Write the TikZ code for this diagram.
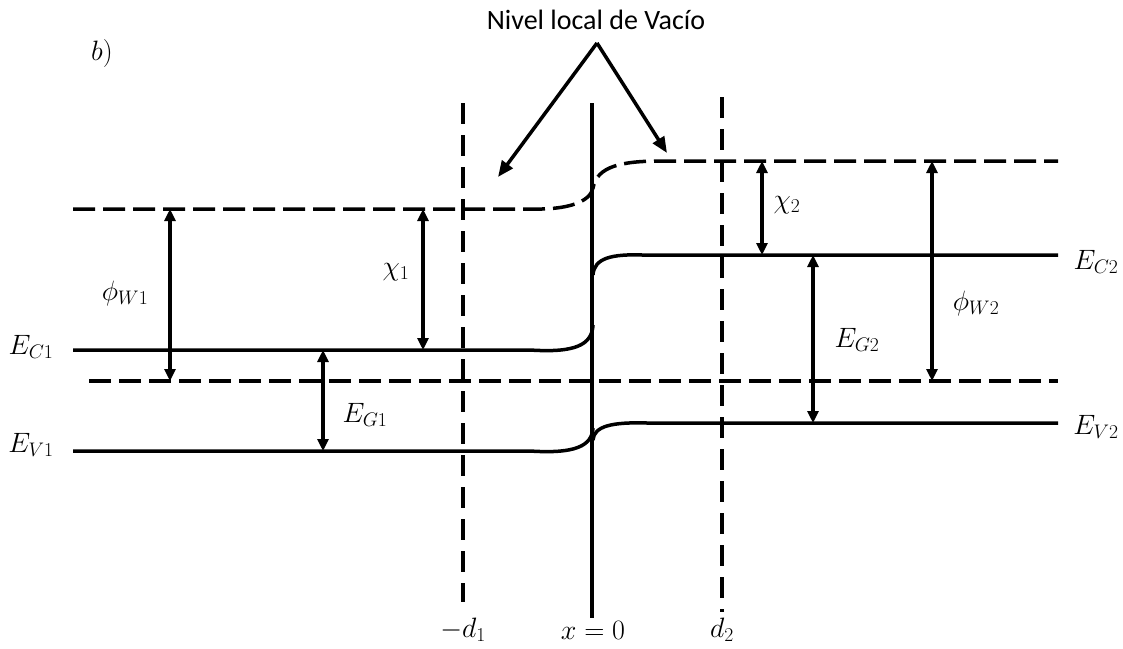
\RequirePackage{fix-cm}
\documentclass[tikz,border=0pt]{standalone}
\usepackage{fontspec}
\newfontfamily\carlito{Carlito}
\usetikzlibrary{arrows.meta}
\begin{document}
\begin{tikzpicture}[x=1pt,y=-1pt,
  level/.style={line width=3.5pt},
  vac/.style={line width=3.5pt, dash pattern=on 22pt off 8pt},
  vdash/.style={line width=3.5pt, dash pattern=on 21pt off 11pt},
  dbl/.style={line width=3.5pt, {Triangle[length=12pt,width=11pt]}-{Triangle[length=12pt,width=11pt]}},
  ptr/.style={line width=3.5pt, -{Triangle[length=16pt,width=13pt]}},
  lbl/.style={font=\fontsize{28}{32}\selectfont, inner sep=0pt},
  txt/.style={font=\carlito\fontsize{28}{32}\selectfont, inner sep=0pt}]
\useasboundingbox (0,0) rectangle (1123,648);

% vacuum level (dashed)
\draw[vac] (73,209) -- (530,209) .. controls (568,210) and (590,202) .. (593,188)
  .. controls (597,166) and (622,161) .. (662,161) -- (1058,161);
% Fermi level (dashed)
\draw[vac] (89,381) -- (1058,381);

% conduction band
\draw[level] (73,350) -- (530,350) .. controls (575,353) and (592,345) .. (593,325);
\draw[level] (593,275) .. controls (594,258) and (612,254) .. (642,255) -- (1058,255);
% valence band
\draw[level] (73,451) -- (530,451) .. controls (575,454) and (592,446) .. (593,428);
\draw[level] (593,440) .. controls (594,426) and (612,422) .. (647,423) -- (1058,423);

% interface and depletion edges
\coordinate (itop) at (592,103);
\coordinate (ibot) at (592,618);
\draw[level] (itop) -- (ibot);
\coordinate (d1top) at (463,103);
\coordinate (d1bot) at (463,602);
\draw[vdash] (d1top) -- (d1bot);
\coordinate (d2top) at (722,97);
\coordinate (d2bot) at (722,612);
\draw[vdash] (d2top) -- (d2bot);

% double arrows
\coordinate (pw1a) at (170,209); \coordinate (pw1b) at (170,381);
\draw[dbl] (pw1a) -- (pw1b);
\coordinate (ch1a) at (423,209); \coordinate (ch1b) at (423,350);
\draw[dbl] (ch1a) -- (ch1b);
\coordinate (eg1a) at (323,350); \coordinate (eg1b) at (323,451);
\draw[dbl] (eg1a) -- (eg1b);
\coordinate (ch2a) at (762,161); \coordinate (ch2b) at (762,255);
\draw[dbl] (ch2a) -- (ch2b);
\coordinate (eg2a) at (813,255); \coordinate (eg2b) at (813,423);
\draw[dbl] (eg2a) -- (eg2b);
\coordinate (pw2a) at (932,161); \coordinate (pw2b) at (932,381);
\draw[dbl] (pw2a) -- (pw2b);

% labels
\node[lbl] (lb) at (102,53) {$b)$};
\node[lbl] (lphi1) at (125,293) {$\phi_{W1}$};
\node[lbl] (lchi1) at (396,272) {$\chi_1$};
\node[lbl] (leg1) at (365,415) {$E_{G1}$};
\node[lbl] (lchi2) at (787,205) {$\chi_2$};
\node[lbl] (leg2) at (857,340) {$E_{G2}$};
\node[lbl] (lphi2) at (976,303) {$\phi_{W2}$};
\node[lbl] (lec1) at (31,347) {$E_{C1}$};
\node[lbl] (lev1) at (31,445) {$E_{V1}$};
\node[lbl] (lec2) at (1096,262) {$E_{C2}$};
\node[lbl] (lev2) at (1096,427) {$E_{V2}$};
\node[lbl] (ld1) at (463,630) {$-d_1$};
\node[lbl] (lx0) at (593,630) {$x=0$};
\node[lbl] (ld2) at (722,630) {$d_2$};

% Nivel local de Vacio
\node[txt] (nivel) at (596,20) {Nivel local de Vacío};
\coordinate (apex) at (597,43);
\coordinate (tipL) at (498,177);
\coordinate (tipR) at (667,153);
\draw[ptr] (apex) -- (tipL);
\draw[ptr] (apex) -- (tipR);
\end{tikzpicture}
\end{document}
